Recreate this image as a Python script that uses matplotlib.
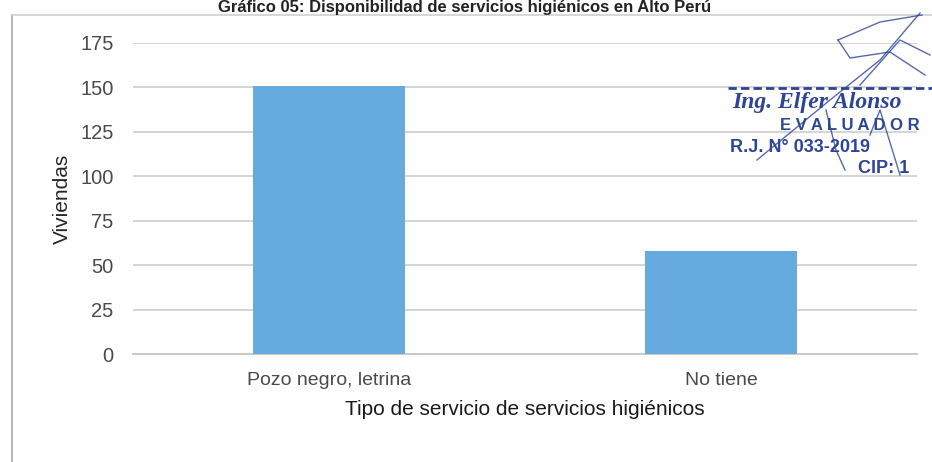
import matplotlib
matplotlib.use("Agg")
import matplotlib.pyplot as plt
from matplotlib.lines import Line2D

categorias = ["Pozo negro, letrina", "No tiene"]
viviendas = [151, 58]
yticks = [0, 25, 50, 75, 100, 125, 150, 175]

titulo = "Gráfico 05: Disponibilidad de servicios higiénicos en Alto Perú"

plt.rcParams["font.family"] = ["Liberation Sans", "DejaVu Sans"]

W, H = 932, 462
fig = plt.figure(figsize=(W / 100, H / 100), dpi=100)
ax = fig.add_axes([133 / W, 1 - 354 / H, (917 - 133) / W, (354 - 43) / H])

ax.bar(range(len(categorias)), viviendas, width=0.39, color="#66abdf", zorder=3)
ax.set_xlim(-0.5, 1.5)
ax.set_ylim(0, 175)
ax.set_yticks(yticks)
ax.set_xticks(range(len(categorias)))
ax.set_xticklabels(categorias)
ax.tick_params(axis="both", length=0, colors="#4a4a4a")
ax.tick_params(axis="y", pad=14, labelsize=14.5)
ax.tick_params(axis="x", pad=13, labelsize=14)
ax.grid(axis="y", color="#d4d4d4", lw=1.4, zorder=0)
for s in ["top", "right", "left"]:
    ax.spines[s].set_visible(False)
ax.spines["bottom"].set_color("#c8c8c8")
ax.spines["bottom"].set_linewidth(1.4)

ax.set_ylabel("Viviendas", fontsize=15, color="#262626", labelpad=6)
ax.set_xlabel("Tipo de servicio de servicios higiénicos", fontsize=15,
              color="#1a1a1a", labelpad=8)

fig.text(465 / W, 1 - 12 / H, titulo, ha="center", va="baseline",
         fontsize=12, fontweight="bold", color="#222222")

# marco del area del grafico
fig.add_artist(Line2D([12 / W, 12 / W], [0, 1 - 15 / H], transform=fig.transFigure,
                      color="#b8b8b8", lw=1.5))
fig.add_artist(Line2D([12 / W, 1], [1 - 15 / H, 1 - 15 / H], transform=fig.transFigure,
                      color="#d0d0d0", lw=1.2))

# sello y firma
azul = "#2d4596"
fig.add_artist(Line2D([728 / W, 1], [1 - 88 / H, 1 - 88 / H], transform=fig.transFigure,
                      color=azul, lw=2, ls=(0, (3, 1.5))))
fig.text(732 / W, 1 - 108 / H, "Ing. Elfer Alonso", fontsize=17, style="italic",
         fontweight="bold", color=azul, family=["Liberation Serif", "DejaVu Serif"])
fig.text(780 / W, 1 - 130 / H, "E V A L U A D O R", fontsize=12, fontweight="bold",
         color=azul)
fig.text(730 / W, 1 - 152 / H, "R.J. N° 033-2019", fontsize=13, fontweight="bold",
         color=azul)
fig.text(858 / W, 1 - 173 / H, "CIP: 1", fontsize=13, fontweight="bold",
         color=azul)
trazos = [
    ([757, 830, 880, 920], [160, 100, 60, 13]),
    ([838, 880, 922], [40, 22, 15]),
    ([838, 850, 890, 925], [40, 58, 52, 75]),
    ([860, 900, 930], [85, 40, 55]),
    ([826, 836, 845], [110, 150, 170]),
    ([870, 880, 900], [135, 110, 175]),
]
for xs, ys in trazos:
    fig.add_artist(Line2D([x / W for x in xs], [1 - y / H for y in ys],
                          transform=fig.transFigure, color=azul, lw=1, alpha=0.8))

fig.savefig("out.png", dpi=100)
